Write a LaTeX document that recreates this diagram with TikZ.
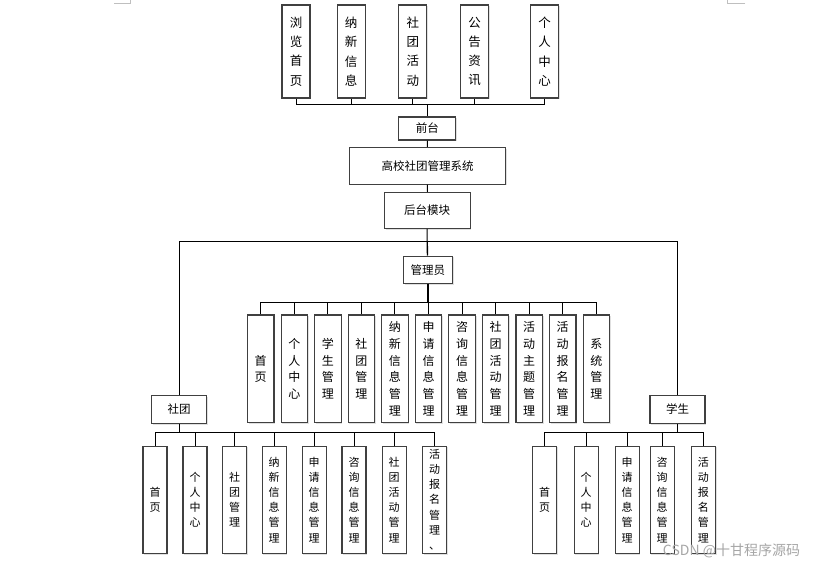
\documentclass[tikz,border=0pt]{standalone}
\usepackage{fontspec}
\newfontfamily\cjk{Noto Sans CJK SC}
\usetikzlibrary{shadows}
\begin{document}
\begin{tikzpicture}[x=1pt, y=-1pt,
	box/.style = {draw=black!75, line width=1.1pt, fill=white, inner sep=0pt, align=center,
		font=\cjk\fontsize{11.5}{14}\selectfont,
		drop shadow={shadow xshift=1.2pt, shadow yshift=-1.2pt, fill=black!12, opacity=1}},
	topbox/.style = {box, minimum width=28pt, minimum height=93pt, font=\cjk\fontsize{12.5}{19.3}\selectfont},
	adminbox/.style = {box, minimum width=26.5pt, minimum height=107.7pt, font=\cjk\fontsize{12}{16.7}\selectfont},
	leafbox/.style = {box, minimum width=24pt, minimum height=107.3pt, font=\cjk\fontsize{11}{15.2}\selectfont},
	link/.style = {draw=black, line width=1pt}]
	\fill[white] (0,0) rectangle (818,567);
	\useasboundingbox (0,0) rectangle (818,567);
	\draw[black!25] (114,3) -- (130,3) -- (130,0);
	\draw[black!25] (745,3) -- (727,3) -- (727,0);

	% front end
	\node[topbox] (llsy) at (296,51.5) {浏\\览\\首\\页};
	\node[topbox] (nxxx) at (351.2,51.5) {纳\\新\\信\\息};
	\node[topbox] (sthd) at (412.8,51.5) {社\\团\\活\\动};
	\node[topbox] (ggzx) at (474.5,51.5) {公\\告\\资\\讯};
	\node[topbox] (grzx) at (544.5,51.5) {个\\人\\中\\心};
	\node[box, minimum width=57pt, minimum height=23pt] (qt) at (427.3,128.5) {前台};

	% system and back end
	\node[box, minimum width=156.4pt, minimum height=36.7pt] (xt) at (427.5,165.7) {高校社团管理系统};
	\node[box, minimum width=85.7pt, minimum height=36pt] (htmk) at (427.2,210.3) {后台模块};
	\node[box, minimum width=49pt, minimum height=27.3pt] (gly) at (427.8,269.7) {管理员};
	\node[box, minimum width=55pt, minimum height=27.6pt] (st) at (179.2,409.5) {社团};
	\node[box, minimum width=55pt, minimum height=27.6pt] (xs) at (677.5,409.5) {学生};

	% admin
	\node[adminbox] (gsy) at (260.7,368.8) {首\\页};
	\node[adminbox] (ggrzx) at (294.3,368.8) {个\\人\\中\\心};
	\node[adminbox] (gxsgl) at (327.8,368.8) {学\\生\\管\\理};
	\node[adminbox] (gstgl) at (361.4,368.8) {社\\团\\管\\理};
	\node[adminbox] (gnxgl) at (394.9,368.8) {纳\\新\\信\\息\\管\\理};
	\node[adminbox] (gsqgl) at (428.5,368.8) {申\\请\\信\\息\\管\\理};
	\node[adminbox] (gzxgl) at (462.1,368.8) {咨\\询\\信\\息\\管\\理};
	\node[adminbox] (ghdgl) at (495.6,368.8) {社\\团\\活\\动\\管\\理};
	\node[adminbox] (gztgl) at (529.2,368.8) {活\\动\\主\\题\\管\\理};
	\node[adminbox] (gbmgl) at (562.7,368.8) {活\\动\\报\\名\\管\\理};
	\node[adminbox] (gxtgl) at (596.3,368.8) {系\\统\\管\\理};

	% club
	\node[leafbox] (ssy) at (155,499.7) {首\\页};
	\node[leafbox] (sgrzx) at (195,499.7) {个\\人\\中\\心};
	\node[leafbox] (sstgl) at (234.7,499.7) {社\\团\\管\\理};
	\node[leafbox] (snxgl) at (274.2,499.7) {纳\\新\\信\\息\\管\\理};
	\node[leafbox] (ssqgl) at (314.2,499.7) {申\\请\\信\\息\\管\\理};
	\node[leafbox] (szxgl) at (354,499.7) {咨\\询\\信\\息\\管\\理};
	\node[leafbox] (shdgl) at (394.2,499.7) {社\\团\\活\\动\\管\\理};
	\node[leafbox] (sbmgl) at (434.7,499.7) {活\\动\\报\\名\\管\\理\\、};

	% student
	\node[leafbox] (xsy) at (544.7,499.7) {首\\页};
	\node[leafbox] (xgrzx) at (586.2,499.7) {个\\人\\中\\心};
	\node[leafbox] (xsqgl) at (627.2,499.7) {申\\请\\信\\息\\管\\理};
	\node[leafbox] (xzxgl) at (662.2,499.7) {咨\\询\\信\\息\\管\\理};
	\node[leafbox] (xbmgl) at (703.3,499.7) {活\\动\\报\\名\\管\\理};

	% buses
	\coordinate (busT) at (427.3,105);
	\coordinate (busM) at (427.2,241.7);
	\coordinate (busA) at (427.8,302.7);
	\coordinate (busC) at (179.2,432.7);
	\coordinate (busS) at (677.5,432.7);

	\path[link] (llsy.south) |- (busT) (nxxx.south) |- (busT) (sthd.south) |- (busT)
		(ggzx.south) |- (busT) (grzx.south) |- (busT) (busT) -- (qt);
	\path[link] (qt) -- (xt) (xt) -- (htmk) (htmk) -- (busM);
	\path[link, line width=1.4pt] (busM) -- (gly);
	\path[link] (st.north) |- (busM) (xs.north) |- (busM);

	\path[link, line width=1.6pt] (gly) -- (busA);
	\path[link] (gsy.north) |- (busA) (ggrzx.north) |- (busA) (gxsgl.north) |- (busA)
		(gstgl.north) |- (busA) (gnxgl.north) |- (busA) (gsqgl.north) |- (busA)
		(gzxgl.north) |- (busA) (ghdgl.north) |- (busA) (gztgl.north) |- (busA)
		(gbmgl.north) |- (busA) (gxtgl.north) |- (busA);

	\path[link, line width=1.4pt] (st) -- (busC);
	\path[link] (ssy.north) |- (busC) (sgrzx.north) |- (busC) (sstgl.north) |- (busC)
		(snxgl.north) |- (busC) (ssqgl.north) |- (busC) (szxgl.north) |- (busC)
		(shdgl.north) |- (busC) (sbmgl.north) |- (busC);

	\path[link, line width=1.4pt] (xs) -- (busS);
	\path[link] (xsy.north) |- (busS) (xgrzx.north) |- (busS) (xsqgl.north) |- (busS)
		(xzxgl.north) |- (busS) (xbmgl.north) |- (busS);

	\node[font=\cjk\fontsize{14}{16}\selectfont, text=black!35, inner sep=0pt] (wm) at (731.5,550.5) {CSDN @十甘程序源码};
\end{tikzpicture}
\end{document}
